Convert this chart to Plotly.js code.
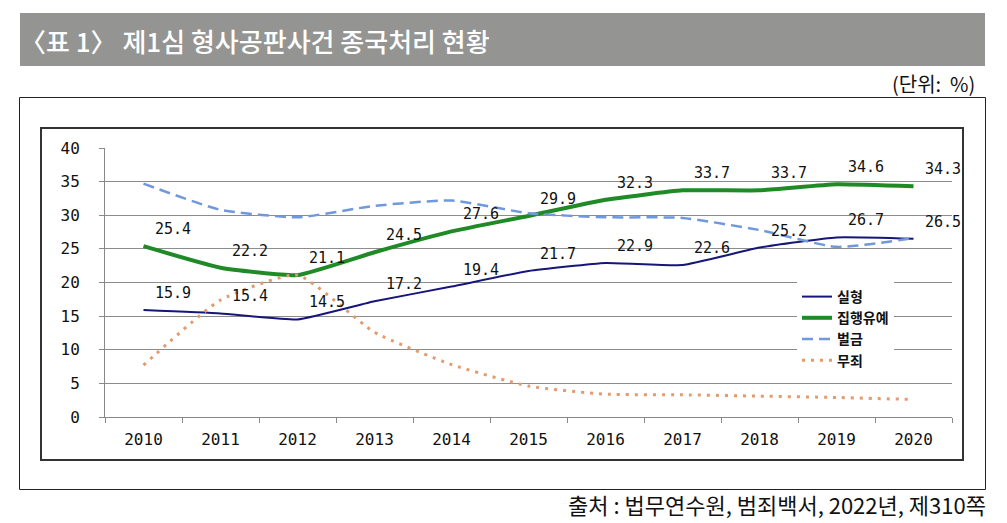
<!DOCTYPE html>
<html>
<head>
<meta charset="utf-8">
<script src="https://cdn.plot.ly/plotly-3.0.1.min.js"></script>
<style>html,body{margin:0;padding:0;background:#fff;}#chart{width:1007px;height:523px;}</style>
</head>
<body>
<div id="chart"></div>
<script>
const years = ['2010','2011','2012','2013','2014','2015','2016','2017','2018','2019','2020'];
const silhyeong = [15.9, 15.4, 14.5, 17.2, 19.4, 21.7, 22.9, 22.6, 25.2, 26.7, 26.5];
const jiphaeng = [25.4, 22.2, 21.1, 24.5, 27.6, 29.9, 32.3, 33.7, 33.7, 34.6, 34.3];
const beolgeum = [34.7, 30.8, 29.7, 31.4, 32.2, 30.3, 29.7, 29.6, 27.8, 25.3, 26.6];
const muje = [7.7, 17.4, 21.1, 12.6, 7.8, 4.6, 3.4, 3.3, 3.1, 2.9, 2.6];
const seriesNames = ['실형', '집행유예', '벌금', '무죄'];
const yTicks = [0, 5, 10, 15, 20, 25, 30, 35, 40];
const titleText = '〈표 1〉 제1심 형사공판사건 종국처리 현황';
const unitText = '(단위:  %)';
const sourceText = '출처 : 법무연수원, 범죄백서, 2022년, 제310쪽';

const W = 1007, H = 523;
const M = {l: 105, r: 55, t: 148, b: 106};
const PW = W - M.l - M.r, PH = H - M.t - M.b;
const px = x => (x - M.l) / PW;
const py = y => (H - M.b - y) / PH;

const kr = '"Noto Sans CJK KR", "Noto Sans", sans-serif';
const num = '"DejaVu Sans Mono", monospace';

const traces = [
  {x: years, y: silhyeong, name: seriesNames[0], mode: 'lines',
   line: {color: '#15157a', width: 2, shape: 'spline', smoothing: 0.4}},
  {x: years, y: jiphaeng, name: seriesNames[1], mode: 'lines',
   line: {color: '#1f8a26', width: 4, shape: 'spline', smoothing: 0.4}},
  {x: years, y: beolgeum, name: seriesNames[2], mode: 'lines',
   line: {color: '#7098dc', width: 2.5, dash: '11px,6px', shape: 'spline', smoothing: 0.5}},
  {x: years, y: muje, name: seriesNames[3], mode: 'lines',
   line: {color: '#e39a6e', width: 3, dash: '3px,6px', shape: 'spline', smoothing: 0.5}}
];

const labelAnn = [];
[silhyeong, jiphaeng].forEach(arr => {
  arr.forEach((v, i) => {
    labelAnn.push({x: i, y: v, xref: 'x', yref: 'y', text: v.toFixed(1),
      showarrow: false, xshift: 29, yshift: 17, xanchor: 'center', yanchor: 'middle',
      font: {family: num, size: 15, color: '#111'}});
  });
});

const annotations = labelAnn.concat([
  {xref: 'paper', yref: 'paper', x: px(18), y: py(40), xanchor: 'left', yanchor: 'middle',
   text: titleText, showarrow: false, font: {family: kr, size: 26, color: '#ffffff', weight: 500}},
  {xref: 'paper', yref: 'paper', x: px(977), y: py(84), xanchor: 'right', yanchor: 'middle',
   text: unitText, showarrow: false, font: {family: kr, size: 20, color: '#111'}},
  {xref: 'paper', yref: 'paper', x: px(988), y: py(504), xanchor: 'right', yanchor: 'middle',
   text: sourceText, showarrow: false, font: {family: kr, size: 22, color: '#111'}}
]);

const shapes = [
  {type: 'rect', xref: 'paper', yref: 'paper', x0: px(20), x1: px(985), y0: py(13), y1: py(66),
   fillcolor: '#949592', line: {width: 0}, layer: 'below'},
  {type: 'rect', xref: 'paper', yref: 'paper', x0: px(19.5), x1: px(985.5), y0: py(97.5), y1: py(489.5),
   line: {color: '#222', width: 1}, layer: 'below'},
  {type: 'rect', xref: 'paper', yref: 'paper', x0: px(41), x1: px(963), y0: py(128), y1: py(460),
   line: {color: '#333', width: 2}, layer: 'below'}
];

const layout = {
  width: W, height: H, margin: M, paper_bgcolor: '#fff', plot_bgcolor: 'rgba(0,0,0,0)',
  showlegend: true,
  legend: {x: px(797), xanchor: 'left', y: py(281), yanchor: 'top', bgcolor: '#ffffff',
    borderwidth: 0, font: {family: kr, size: 14, color: '#111', weight: 'bold'},
    itemwidth: 30, tracegroupgap: 0, traceorder: 'normal'},
  xaxis: {type: 'category', range: [-0.5, 10.5], tickson: 'boundaries', ticks: 'outside',
    ticklen: 5, tickcolor: '#888', showline: true, linecolor: '#888', linewidth: 1,
    showgrid: false, zeroline: false, ticklabelstandoff: 8,
    tickfont: {family: num, size: 16, color: '#111'}, fixedrange: true},
  yaxis: {range: [0, 40], tickvals: yTicks, ticks: 'outside', ticklen: 5, tickcolor: '#888',
    showline: true, linecolor: '#888', linewidth: 1, showgrid: true, gridcolor: '#8c8c8c',
    gridwidth: 1, zeroline: false, ticklabelstandoff: 16,
    tickfont: {family: num, size: 16, color: '#111'}, fixedrange: true},
  shapes: shapes, annotations: annotations
};

Plotly.newPlot('chart', traces, layout, {displayModeBar: false, staticPlot: true});
</script>
</body>
</html>
